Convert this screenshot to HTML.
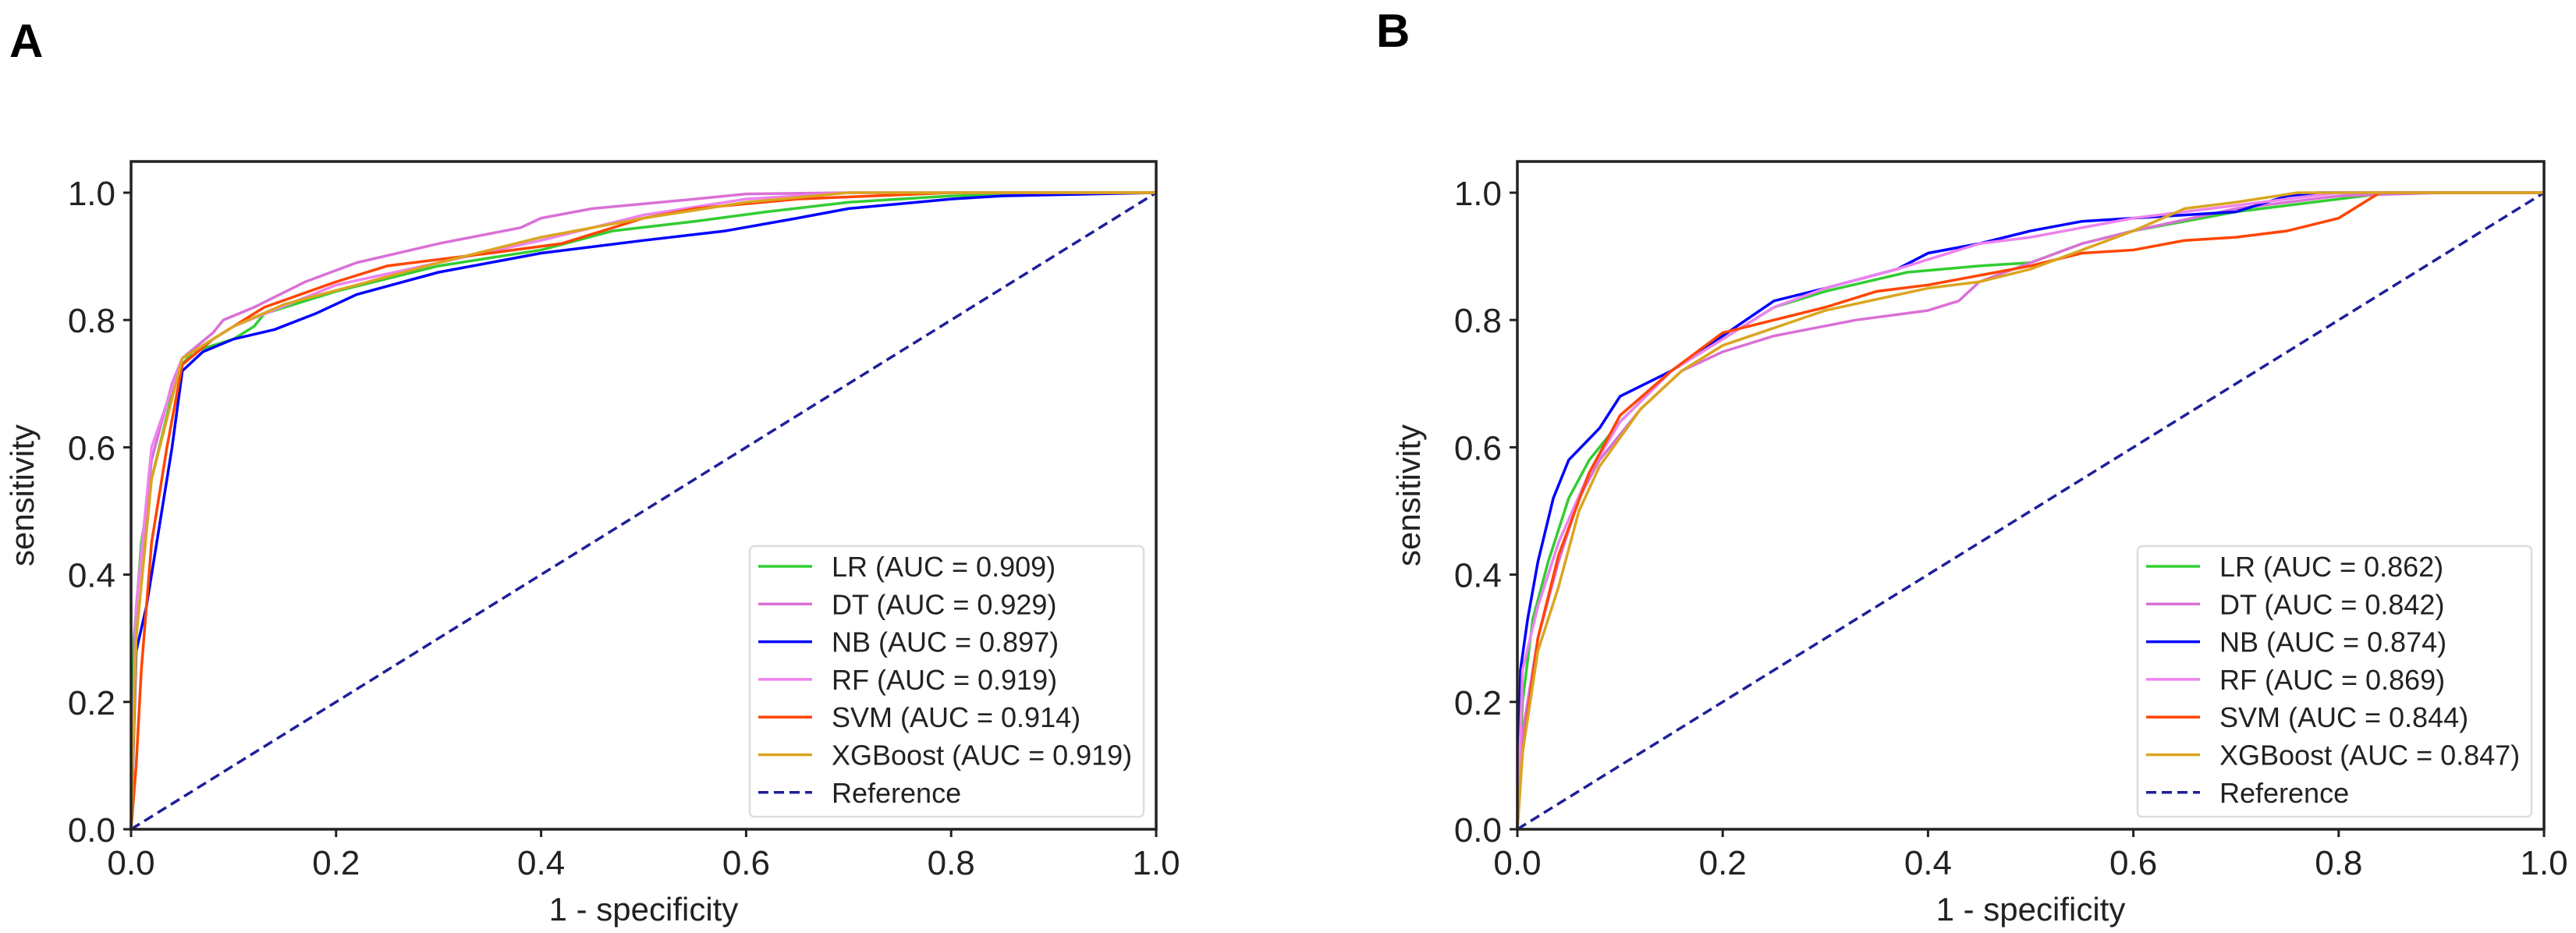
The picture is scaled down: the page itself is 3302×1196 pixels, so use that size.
<!DOCTYPE html>
<html><head><meta charset="utf-8"><style>
html,body{margin:0;padding:0;background:#fff;}
svg{display:block;font-family:"Liberation Sans","DejaVu Sans",sans-serif;}
</style></head><body>
<svg id="fig" width="3302" height="1196" viewBox="0 0 3302 1196" xmlns="http://www.w3.org/2000/svg">
<text x="12" y="73" font-size="60" font-weight="bold">A</text>
<text x="1764" y="60" font-size="60" font-weight="bold">B</text>
</svg>
<script>
const seriesNames = ["LR","DT","NB","RF","SVM","XGBoost"];
const seriesColors = ["#32CD32","#DA70D6","#0000FF","#EE82EE","#FF4500","#DAA520"];
const tickValues = [0,0.2,0.4,0.6,0.8,1.0];
const tickLabels = ["0.0","0.2","0.4","0.6","0.8","1.0"];
const aucA = ["0.909","0.929","0.897","0.919","0.914","0.919"];
const aucB = ["0.862","0.842","0.874","0.869","0.844","0.847"];
const aLR = [[0,0],[0.003,0.3],[0.01,0.45],[0.02,0.55],[0.035,0.65],[0.045,0.72],[0.06,0.75],[0.1,0.77],[0.12,0.79],[0.13,0.81],[0.2,0.845],[0.3,0.885],[0.4,0.91],[0.47,0.94],[0.55,0.955],[0.62,0.97],[0.7,0.985],[0.8,0.995],[0.95,1],[1,1]];
const aDT = [[0,0],[0.005,0.35],[0.02,0.58],[0.04,0.7],[0.05,0.74],[0.08,0.78],[0.09,0.8],[0.12,0.82],[0.17,0.86],[0.22,0.89],[0.3,0.92],[0.38,0.945],[0.4,0.96],[0.45,0.975],[0.55,0.99],[0.6,0.998],[0.7,1],[1,1]];
const aNB = [[0,0],[0.005,0.28],[0.015,0.35],[0.025,0.45],[0.04,0.6],[0.05,0.72],[0.07,0.75],[0.1,0.77],[0.14,0.785],[0.18,0.81],[0.22,0.84],[0.3,0.875],[0.4,0.905],[0.5,0.925],[0.58,0.94],[0.65,0.96],[0.7,0.975],[0.8,0.99],[0.85,0.995],[1,1]];
const aRF = [[0,0],[0.005,0.35],[0.02,0.6],[0.05,0.74],[0.1,0.79],[0.2,0.855],[0.3,0.89],[0.4,0.925],[0.5,0.965],[0.6,0.99],[0.7,1],[1,1]];
const aSVM = [[0,0],[0.005,0.1],[0.01,0.25],[0.02,0.45],[0.035,0.6],[0.05,0.73],[0.08,0.77],[0.13,0.82],[0.2,0.86],[0.25,0.885],[0.35,0.905],[0.42,0.92],[0.5,0.96],[0.55,0.975],[0.65,0.99],[0.8,1],[1,1]];
const aXGB = [[0,0],[0.005,0.3],[0.02,0.55],[0.05,0.74],[0.1,0.79],[0.15,0.825],[0.22,0.855],[0.3,0.89],[0.4,0.93],[0.5,0.96],[0.6,0.985],[0.7,1],[1,1]];
const bLR = [[0,0],[0.005,0.2],[0.015,0.33],[0.03,0.42],[0.05,0.52],[0.07,0.58],[0.1,0.64],[0.15,0.72],[0.2,0.77],[0.25,0.82],[0.3,0.845],[0.38,0.875],[0.45,0.885],[0.5,0.89],[0.55,0.92],[0.6,0.94],[0.7,0.97],[0.8,0.99],[0.85,1],[1,1]];
const bDT = [[0,0],[0.005,0.15],[0.02,0.3],[0.04,0.42],[0.06,0.52],[0.08,0.58],[0.12,0.66],[0.16,0.72],[0.2,0.75],[0.25,0.775],[0.33,0.8],[0.4,0.815],[0.43,0.83],[0.45,0.86],[0.5,0.89],[0.55,0.92],[0.6,0.94],[0.7,0.975],[0.8,0.995],[0.9,1],[1,1]];
const bNB = [[0,0],[0.003,0.25],[0.01,0.33],[0.02,0.42],[0.035,0.52],[0.05,0.58],[0.08,0.63],[0.1,0.68],[0.15,0.72],[0.2,0.775],[0.25,0.83],[0.3,0.85],[0.37,0.88],[0.4,0.905],[0.45,0.92],[0.5,0.94],[0.55,0.955],[0.6,0.96],[0.7,0.97],[0.75,0.995],[0.78,1],[1,1]];
const bRF = [[0,0],[0.005,0.25],[0.02,0.35],[0.04,0.45],[0.07,0.56],[0.1,0.64],[0.15,0.72],[0.2,0.77],[0.25,0.82],[0.3,0.85],[0.37,0.88],[0.45,0.92],[0.5,0.93],[0.6,0.96],[0.7,0.98],[0.8,1],[1,1]];
const bSVM = [[0,0],[0.005,0.12],[0.02,0.3],[0.04,0.43],[0.07,0.56],[0.1,0.65],[0.15,0.72],[0.2,0.78],[0.25,0.8],[0.3,0.82],[0.35,0.845],[0.4,0.855],[0.45,0.87],[0.5,0.885],[0.55,0.905],[0.6,0.91],[0.65,0.925],[0.7,0.93],[0.75,0.94],[0.8,0.96],[0.84,1],[1,1]];
const bXGB = [[0,0],[0.005,0.12],[0.02,0.28],[0.04,0.38],[0.06,0.5],[0.08,0.57],[0.12,0.66],[0.16,0.72],[0.2,0.76],[0.3,0.815],[0.4,0.85],[0.45,0.86],[0.5,0.88],[0.55,0.91],[0.6,0.94],[0.65,0.975],[0.7,0.985],[0.76,1],[1,1]];
const dataA = [aLR,aDT,aNB,aRF,aSVM,aXGB];
const dataB = [bLR,bDT,bNB,bRF,bSVM,bXGB];

const NS="http://www.w3.org/2000/svg";
const svg=document.getElementById('fig');
function mk(tag,attrs,parent){const e=document.createElementNS(NS,tag);for(const k in attrs)e.setAttribute(k,attrs[k]);(parent||svg).appendChild(e);return e;}

function panel(id,left,right,data,auc){
  const top=207,bottom=1063,y1=247;
  const sx=v=>left+v*(right-left);
  const sy=v=>bottom-v*(bottom-y1);
  const g=mk('g',{});
  
  
  // reference line
  const ref=mk('line',{x1:sx(0),y1:sy(0),x2:sx(1),y2:sy(1),stroke:'#1f1f9a','stroke-width':3.5,'stroke-dasharray':'13 7'},g);
  
  
  data.forEach((pts,i)=>{
    const p=mk('polyline',{points:pts.map(d=>sx(d[0])+','+sy(d[1])).join(' '),fill:'none',stroke:seriesColors[i],'stroke-width':3.5,'stroke-linejoin':'round'},g);
    
    
  });
  const fr=mk('rect',{x:left,y:top,width:right-left,height:bottom-top,fill:'none',stroke:'#222','stroke-width':3.5},g);
  
  
  tickValues.forEach((v,i)=>{
    mk('line',{x1:sx(v),y1:bottom,x2:sx(v),y2:bottom+10,stroke:'#222','stroke-width':3},g);
    const tx=mk('text',{x:sx(v),y:bottom+58,'font-size':44,'text-anchor':'middle',fill:'#222'},g);
    tx.textContent=tickLabels[i];
    
    
    mk('line',{x1:left-10,y1:sy(v),x2:left,y2:sy(v),stroke:'#222','stroke-width':3},g);
    const ty=mk('text',{x:left-20,y:sy(v)+16,'font-size':44,'text-anchor':'end',fill:'#222'},g);
    ty.textContent=tickLabels[i];
    
    
  });
  const xl=mk('text',{x:(left+right)/2,y:1180,'font-size':42,'text-anchor':'middle',fill:'#222'},g);
  xl.textContent='1 - specificity';
  
  
  const yl=mk('text',{x:0,y:0,'font-size':42,'text-anchor':'middle',fill:'#222',transform:`translate(${left-125},${(top+bottom)/2}) rotate(-90)`},g);
  yl.textContent='sensitivity';
  
  
  // legend
  const lx=right-521,ly=700;
  const lg=mk('g',{},g);
  
  
  mk('rect',{x:lx,y:ly,width:505,height:347,rx:6,fill:'#fff','fill-opacity':0.85,stroke:'#ddd','stroke-width':2.5},lg);
  const labels=seriesNames.map((n,i)=>`${n} (AUC = ${auc[i]})`).concat(['Reference']);
  const cols=seriesColors.concat(['#1f1f9a']);
  labels.forEach((t,i)=>{
    const yy=ly+26+i*48.3;
    const ln=mk('line',{x1:lx+11,y1:yy,x2:lx+80,y2:yy,stroke:cols[i],'stroke-width':3.5},lg);
    if(i===6)ln.setAttribute('stroke-dasharray','13 7');
    const tt=mk('text',{x:lx+105,y:yy+13,'font-size':36,fill:'#222'},lg);
    tt.textContent=t;
    
    
  });
}
panel('a',168,1482,dataA,aucA);
panel('b',1945,3261,dataB,aucB);
</script>
</body></html>
